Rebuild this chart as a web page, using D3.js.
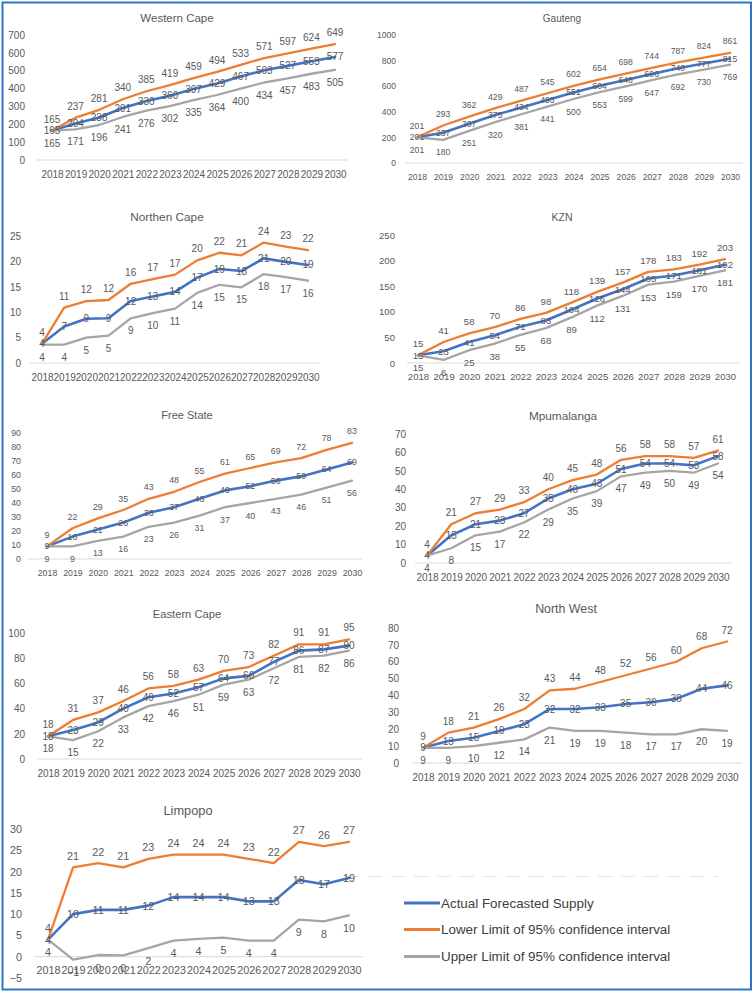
<!DOCTYPE html>
<html><head><meta charset="utf-8">
<script src="https://cdn.jsdelivr.net/npm/d3@7"></script>
<style>body{margin:0;background:#fff}svg{display:block}</style>
</head><body>
<script>
// ---------- DATA ----------
const years = [2018,2019,2020,2021,2022,2023,2024,2025,2026,2027,2028,2029,2030];
const regions = ["Western Cape","Gauteng","Northen Cape","KZN","Free State","Mpumalanga","Eastern Cape","North West","Limpopo"];
const seriesNames = ["Actual Forecasted Supply","Lower Limit of 95% confidence interval","Upper Limit of 95% confidence interval"];

const westernCapeActual = [165,204,238,291,330,360,397,429,467,503,527,553,577];
const westernCapeLower  = [165,237,281,340,385,419,459,494,533,571,597,624,649];
const westernCapeUpper  = [165,171,196,241,276,302,335,364,400,434,457,483,505];
const westernCapeTicks  = [0,100,200,300,400,500,600,700];

const gautengActual = [201,237,307,375,434,493,551,604,648,696,740,777,815];
const gautengLower  = [201,293,362,429,487,545,602,654,698,744,787,824,861];
const gautengUpper  = [201,180,251,320,381,441,500,553,599,647,692,730,769];
const gautengTicks  = [0,200,400,600,800,1000];

const northenCapeActual = [3.8,7.2,8.7,8.8,12.2,13.1,14.0,16.8,18.5,18.1,20.6,19.9,19.3];
const northenCapeLower  = [3.8,10.9,12.2,12.4,15.6,16.5,17.4,20.2,21.7,21.2,23.7,22.9,22.2];
const northenCapeUpper  = [3.6,3.6,5.0,5.4,8.8,9.8,10.7,13.8,15.4,14.9,17.5,16.9,16.2];
const northenCapeTicks  = [0,5,10,15,20,25];

const kznActual = [15,23,41,54,71,83,104,126,144,165,171,181,192];
const kznLower  = [15,41,58,70,86,98,118,139,157,178,183,192,203];
const kznUpper  = [15,6,25,38,55,68,89,112,131,153,159,170,181];
const kznTicks  = [0,50,100,150,200,250];

const freeStateActual = [9,16,21,26,33,37,43,49,52,56,59,64,69];
const freeStateLower  = [9,22,29,35,43,48,55,61,65,69,72,78,83];
const freeStateUpper  = [9,9,13,16,23,26,31,37,40,43,46,51,56];
const freeStateTicks  = [0,10,20,30,40,50,60,70,80,90];

const mpumalangaActual = [4,15,21,23,27,35,40,43,51,54,54,53,58];
const mpumalangaLower  = [4,21,27,29,33,40,45,48,56,58,58,57,61];
const mpumalangaUpper  = [4,8,15,17,22,29,35,39,47,49,50,49,54];
const mpumalangaTicks  = [0,10,20,30,40,50,60,70];

const easternCapeActual = [18,23,29,40,49,52,57,64,66,77,86,87,90];
const easternCapeLower  = [18,31,37,46,56,58,63,70,73,82,91,91,95];
const easternCapeUpper  = [18,15,22,33,42,46,51,59,63,72,81,82,86];
const easternCapeTicks  = [0,20,40,60,80,100];

const northWestActual = [9,13,15,19,23,32,32,33,35,36,38,44,46];
const northWestLower  = [9,18,21,26,32,43,44,48,52,56,60,68,72];
const northWestUpper  = [9,9,10,12,14,21,19,19,18,17,17,20,19];
const northWestTicks  = [0,10,20,30,40,50,60,70,80];

const limpopoActual = [4,10,11,11,12,14,14,14,13,13,18,17,18.5];
const limpopoLower  = [4,21,22,21,23,24,24,24,23,22,27,26,27];
const limpopoUpper  = [4,-0.7,0.4,0.3,2,3.8,4.2,4.5,3.8,3.8,8.7,8.3,9.7];
const limpopoTicks  = [-5,0,5,10,15,20,25,30];

// ---------- LAYOUT ----------
const W = 755, H = 993;
const colors = ["#4472c4","#ed7d31","#a5a5a5"];
const widths = [2.6,2.3,2.3];
const textColor = "#595959";
const font = "'Liberation Sans', Arial, sans-serif";

const layouts = [
  {x0:52, x1:335, yTop:35, yBot:160, axL:36, axR:348, labR:25, tx:177, ty:18, fs:10, ts:11.5},
  {x0:417,x1:730, yTop:35, yBot:163, axL:405,axR:743, labR:396,tx:562, ty:18, fs:8.6, ts:10},
  {x0:42, x1:308, yTop:236,yBot:363, axL:30, axR:320, labR:21, tx:167, ty:217,fs:10, ts:11.8},
  {x0:418,x1:725, yTop:235,yBot:363, axL:407,axR:740, labR:395,tx:562, ty:217,fs:9.6, ts:10.5},
  {x0:47, x1:352, yTop:433,yBot:559, axL:28, axR:362, labR:21, tx:187, ty:415,fs:8.8, ts:11},
  {x0:427,x1:718, yTop:434,yBot:563, axL:415,axR:732, labR:406,tx:563, ty:416,fs:10, ts:11.8},
  {x0:48, x1:349, yTop:633,yBot:759, axL:37, axR:362, labR:25, tx:187, ty:614,fs:10, ts:11.2},
  {x0:423,x1:727, yTop:628,yBot:763, axL:412,axR:742, labR:399,tx:566, ty:609,fs:10, ts:12.4},
  {x0:48, x1:349, yTop:829,yBot:978, axL:35, axR:363, labR:22, tx:188, ty:810,fs:10.8,ts:12.8}
];

const panelData = [
  [westernCapeActual,westernCapeLower,westernCapeUpper,westernCapeTicks],
  [gautengActual,gautengLower,gautengUpper,gautengTicks],
  [northenCapeActual,northenCapeLower,northenCapeUpper,northenCapeTicks],
  [kznActual,kznLower,kznUpper,kznTicks],
  [freeStateActual,freeStateLower,freeStateUpper,freeStateTicks],
  [mpumalangaActual,mpumalangaLower,mpumalangaUpper,mpumalangaTicks],
  [easternCapeActual,easternCapeLower,easternCapeUpper,easternCapeTicks],
  [northWestActual,northWestLower,northWestUpper,northWestTicks],
  [limpopoActual,limpopoLower,limpopoUpper,limpopoTicks]
];

const svg = d3.select("body").append("svg").attr("width",W).attr("height",H)
  .style("font-family",font);

svg.append("rect").attr("width",W).attr("height",H).attr("fill","#fff");

// faint artifact dashed line
svg.append("line").attr("x1",345).attr("x2",718).attr("y1",876.5).attr("y2",876.5)
  .attr("stroke","#e4e4e4").attr("stroke-width",1).attr("stroke-dasharray","14,9");

const fmt = d3.format(".0f");

regions.forEach((name,pi)=>{
  const L = layouts[pi];
  const [actual,lower,upper,ticks] = panelData[pi];
  const x = d3.scaleLinear().domain([years[0],years[years.length-1]]).range([L.x0,L.x1]);
  const y = d3.scaleLinear().domain([ticks[0],ticks[ticks.length-1]]).range([L.yBot,L.yTop]);
  const g = svg.append("g");

  g.append("text").attr("x",L.tx).attr("y",L.ty).attr("text-anchor","middle")
    .attr("dominant-baseline","central").attr("fill",textColor)
    .style("font-size",L.ts+"px").text(name);

  g.append("line").attr("x1",L.axL).attr("x2",L.axR).attr("y1",y(0)).attr("y2",y(0))
    .attr("stroke","#d9d9d9").attr("stroke-width",1);

  const ya = g.append("g").attr("transform",`translate(${L.labR},0)`)
    .call(d3.axisLeft(y).tickValues(ticks).tickSize(0).tickPadding(0).tickFormat(d3.format("d")));
  ya.select(".domain").remove();
  ya.selectAll("text").attr("fill",textColor).style("font-size",L.fs+"px").style("font-family",font);

  const xa = g.append("g").attr("transform",`translate(0,${y(0)})`)
    .call(d3.axisBottom(x).tickValues(years).tickSize(0).tickPadding(14 - L.fs*0.36).tickFormat(d3.format("d")));
  xa.select(".domain").remove();
  xa.selectAll("text").attr("fill",textColor).style("font-size",L.fs+"px").style("font-family",font);

  const line = d3.line().x((d,i)=>x(years[i])).y(d=>y(d)).curve(d3.curveLinear);
  [actual,lower,upper].forEach((s,si)=>{
    g.append("path").datum(s).attr("d",line).attr("fill","none")
      .attr("stroke",colors[si]).attr("stroke-width",widths[si])
      .attr("stroke-linejoin","round").attr("stroke-linecap","round");
  });

  const offs = [0,-11.5,12.5];
  [actual,lower,upper].forEach((s,si)=>{
    g.append("g").selectAll("text").data(s).join("text")
      .attr("x",(d,i)=>x(years[i])).attr("y",d=>y(d)+offs[si])
      .attr("text-anchor","middle").attr("dominant-baseline","central")
      .attr("fill",textColor).style("font-size",L.fs+"px")
      .text(d=>fmt(d));
  });
});

// legend
const lg = svg.append("g");
const legY = [903,929.5,956.5];
seriesNames.forEach((n,i)=>{
  lg.append("line").attr("x1",404).attr("x2",440).attr("y1",legY[i]).attr("y2",legY[i])
    .attr("stroke",colors[i]).attr("stroke-width",3);
  lg.append("text").attr("x",441).attr("y",legY[i]).attr("dominant-baseline","central")
    .attr("fill","#404040").style("font-size","13.4px").text(n);
});

// outer frame
svg.append("rect").attr("x",2.5).attr("y",2.5).attr("width",748.5).attr("height",987)
  .attr("fill","none").attr("stroke","#2e75c8").attr("stroke-width",2);
</script>
</body></html>
